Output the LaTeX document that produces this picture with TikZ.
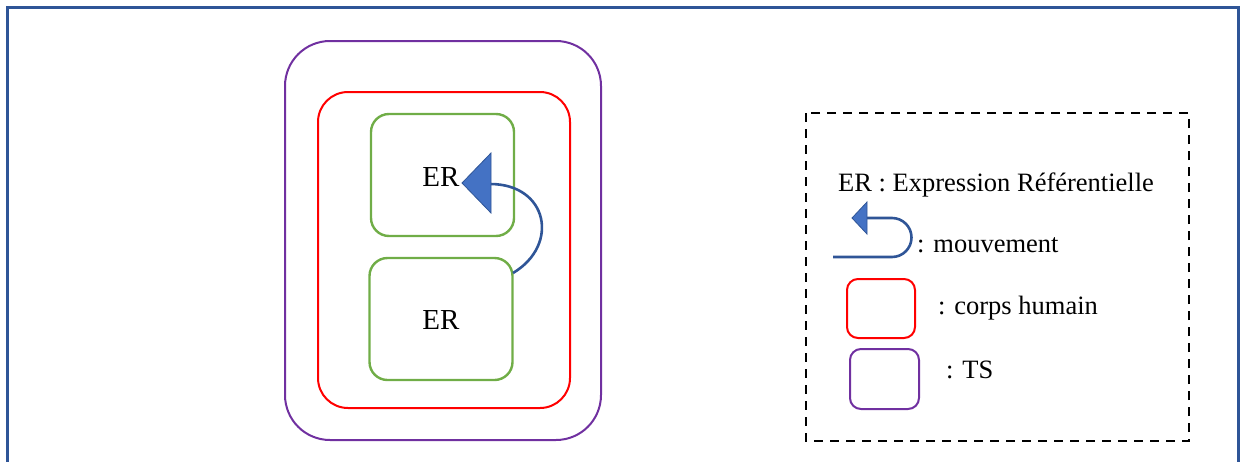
\documentclass[tikz,border=0pt]{standalone}
\usepackage{fontspec}
\setmainfont{Liberation Serif}
\definecolor{frameblue}{HTML}{2F5597}
\definecolor{arrowfill}{HTML}{4472C4}
\definecolor{tsviolet}{HTML}{7030A0}
\definecolor{erg}{HTML}{70AD47}
\definecolor{chred}{HTML}{FF0000}
\tikzset{
  x=1pt, y=-1pt,
  tsbox/.style={draw=tsviolet, line width=2pt, rounded corners=#1},
  chbox/.style={draw=chred, line width=2pt, rounded corners=#1},
  erbox/.style={draw=erg, line width=2.4pt, rounded corners=18pt, minimum width=143pt, minimum height=122pt, inner sep=0pt},
  ertxt/.style={font=\fontsize{29}{32}\selectfont, inner sep=0pt},
  lbl/.style={font=\fontsize{26.5}{30}\selectfont, inner sep=0pt, anchor=west},
  mvline/.style={draw=frameblue, line width=2.6pt},
  tri/.style={fill=arrowfill, draw=frameblue, line width=0.8pt, line join=miter},
}
\begin{document}
\begin{tikzpicture}
\useasboundingbox (0,0) rectangle (1244,461);
\begin{scope}
\clip (0,0) rectangle (1244,461);
\draw[frameblue, line width=3pt] (7,480) -- (7,7) -- (1238,7) -- (1238,480);
\end{scope}
% TS and corps humain
\draw[tsbox=45pt] (285,41) rectangle (601,440);
\draw[chbox=30pt] (318,92) rectangle (570,408);
% ER boxes
\node[erbox] (er1) at (442.5,175) {};
\node[erbox] (er2) at (441,319) {};
\node[ertxt] (t1) at (441,177) {ER};
\node[ertxt] (t2) at (441,320) {ER};
% movement arrow
\coordinate (mvs) at (513,273);
\coordinate (mve) at (490,184);
\draw[mvline] (mvs) .. controls (560,245) and (548,184) .. (mve);
\draw[tri] (462,183) -- (491,153) -- (491,213) -- cycle;
% legend
\draw[black, line width=2pt, dash pattern=on 9pt off 7pt] (806,113) rectangle (1189,441);
\node[lbl] (lg1) at (838,185) {ER : Expression Référentielle};
\coordinate (ma) at (833,257);
\coordinate (mb) at (892,257);
\coordinate (mc) at (865,218);
\draw[mvline] (ma) -- (mb) arc[start angle=-90, end angle=90, radius=19.5pt] -- (mc);
\draw[tri] (852,218) -- (867,202) -- (867,234) -- cycle;
\node[lbl] (lg2) at (917,245) {: mouvement};
\draw[chbox=11pt] (847,279) rectangle (915,338);
\node[lbl] (lg3) at (938,308) {: corps humain};
\draw[tsbox=11pt] (850,349) rectangle (919,409);
\node[lbl] (lg4) at (946,370) {: TS};
\end{tikzpicture}
\end{document}
